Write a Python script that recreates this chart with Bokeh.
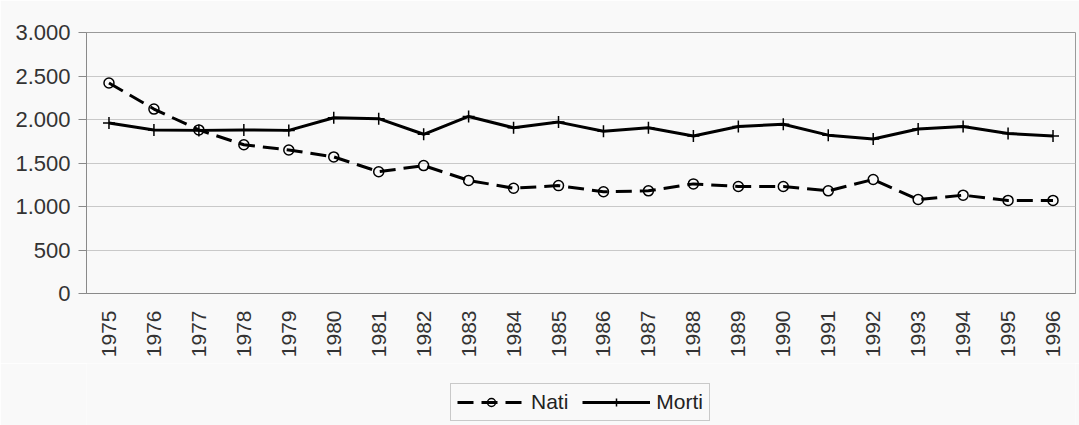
from bokeh.plotting import figure
from bokeh.layouts import column
from bokeh.models import Range1d, FactorRange, Legend, CustomJSTickFormatter, SingleIntervalTicker
from bokeh.embed import file_html
from bokeh.resources import INLINE

years = [str(y) for y in range(1975, 1997)]
nati = [2420, 2120, 1880, 1710, 1650, 1570, 1400, 1470, 1300, 1210, 1240,
        1170, 1180, 1260, 1230, 1230, 1180, 1310, 1080, 1130, 1070, 1070]
morti = [1960, 1880, 1875, 1880, 1875, 2020, 2010, 1830, 2035, 1905, 1970,
         1865, 1905, 1810, 1920, 1945, 1820, 1775, 1890, 1920, 1840, 1810]

FONT = "Liberation Sans"
BG = "#f9f9f9"


def draw(fig):
    ln = fig.line(years, nati, line_color="black", line_width=3, line_dash="16 8")
    sc = fig.scatter(years, nati, marker="circle", size=10, fill_color=None,
                     line_color="black", line_width=1.5)
    lm = fig.line(years, morti, line_color="black", line_width=3)
    sm = fig.scatter(years, morti, marker="cross", size=12, line_color="black",
                     line_width=1.5)
    return ln, sc, lm, sm


p = figure(width=1079, height=363, x_range=FactorRange(*years),
           y_range=Range1d(0, 3000), output_backend="svg",
           toolbar_location=None, min_border_left=86, min_border_right=4,
           min_border_top=32, min_border_bottom=70)
p.background_fill_color = BG
p.border_fill_color = BG
p.outline_line_color = "#9a9a9a"
p.outline_line_width = 1
draw(p)

p.xgrid.grid_line_color = None
p.ygrid.grid_line_color = "#c9c9c9"
p.ygrid.grid_line_width = 1

p.yaxis.ticker = SingleIntervalTicker(interval=500)
p.yaxis.formatter = CustomJSTickFormatter(
    code="return tick.toFixed(0).replace(/\\B(?=(\\d{3})+(?!\\d))/g, '.');")
p.yaxis.major_label_text_font = FONT
p.yaxis.major_label_text_font_size = "22px"
p.yaxis.major_label_text_color = "#333333"
p.yaxis.axis_line_color = "#8a8a8a"
p.yaxis.major_tick_line_color = "#8a8a8a"
p.yaxis.major_tick_out = 8
p.yaxis.major_tick_in = 0
p.yaxis.minor_tick_line_color = None
p.yaxis.major_label_standoff = 8

p.xaxis.major_label_orientation = 1.5708
p.xaxis.major_label_text_font = FONT
p.xaxis.major_label_text_font_size = "21px"
p.xaxis.major_label_text_color = "#333333"
p.xaxis.axis_line_color = "#8a8a8a"
p.xaxis.major_tick_line_color = None
p.xaxis.major_tick_out = 0
p.xaxis.major_label_standoff = 17

# legend strip below the chart
q = figure(width=1079, height=62, x_range=FactorRange(*years),
           y_range=Range1d(-2, -1), output_backend="svg",
           toolbar_location=None, x_axis_location=None, y_axis_location=None,
           min_border_left=86, min_border_right=4, min_border_top=0,
           min_border_bottom=0)
q.background_fill_color = BG
q.border_fill_color = BG
q.outline_line_color = None
q.grid.grid_line_color = None
ln, sc, lm, sm = draw(q)

legend = Legend(items=[("Nati", [ln, sc]), ("Morti", [lm, sm])],
                orientation="horizontal", location=(364, 4),
                label_text_font=FONT, label_text_font_size="21px",
                label_text_color="#222222", glyph_width=68, glyph_height=20,
                label_standoff=6, spacing=14, padding=6, margin=0,
                border_line_color="#9a9a9a", background_fill_alpha=0)
q.add_layout(legend)

layout = column(p, q, spacing=0)
open("out.html", "w").write(file_html(layout, INLINE))
